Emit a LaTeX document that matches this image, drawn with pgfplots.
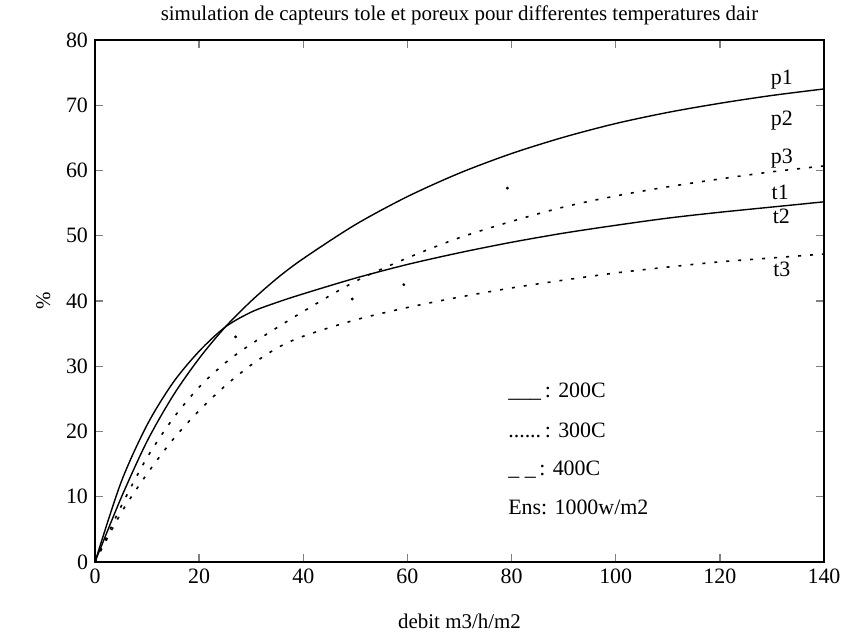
\documentclass[border=0pt]{standalone}
\usepackage{fontspec}
\setmainfont{Liberation Serif}
\usepackage{pgfplots}
\pgfplotsset{compat=1.18}
\begin{document}
\begin{tikzpicture}
\begin{axis}[
  name=ax,
  scale only axis,
  width=364.5bp, height=261bp,
  xmin=0, xmax=140, ymin=0, ymax=80,
  xtick={0,20,...,140}, ytick={0,10,...,80},
  tick align=inside, major tick length=4bp,
  xtick pos=both, ytick pos=both,
  tick style={line width=0.7pt},
  axis line style={line width=0.8pt},
  /pgf/number format/assume math mode=true,
  tick label style={font=\fontsize{11}{13}\selectfont},
  title={simulation de capteurs tole et poreux pour differentes temperatures dair},
  title style={font=\fontsize{10.5}{12}\selectfont, yshift=-2bp},
  xlabel={debit m3/h/m2},
  xlabel style={font=\fontsize{10.5}{12}\selectfont, yshift=-8bp},
  ylabel={\%},
  ylabel style={font=\fontsize{10.5}{12}\selectfont, yshift=1bp},
  clip=false,
]
% p1 (200C, solid)
\addplot[black, line width=0.7pt, smooth] coordinates {
 (0,0) (5,9.8) (10,18.5) (15,25.5) (20,31.2) (25,36) (30,40) (35,43.5) (40,46.5) (50,51.7)
 (60,56.0) (70,59.6) (80,62.6) (90,65.1) (100,67.2) (110,68.9) (120,70.3) (130,71.5) (140,72.5)};
% t1 (200C, solid)
\addplot[black, line width=0.7pt, smooth] coordinates {
 (0,0) (5,12.2) (10,21) (15,27.5) (20,32.3) (25,36) (30,38.3) (35,39.8) (40,41.1)
 (50,43.5) (60,45.6) (70,47.4) (80,49.0) (90,50.4) (100,51.6) (110,52.7) (120,53.6) (130,54.4) (140,55.2)};
% p3 (300C, dotted)
\addplot[black, line width=0.8pt, dash pattern=on 1.5bp off 4.5bp, smooth] coordinates {
 (0,0) (5,8.5) (10,16) (15,22) (20,26.8) (25,30.5) (30,33.4) (40,38.4) (50,43.0)
 (60,46.6) (70,49.7) (80,52.2) (90,54.4) (100,56.1) (110,57.5) (120,58.7) (130,59.8) (140,60.7)};
% t3 (300C, dotted)
\addplot[black, line width=0.8pt, dash pattern=on 1.5bp off 4.5bp, smooth] coordinates {
 (0,0) (5,7.5) (10,13.5) (15,18.8) (20,23.2) (25,27) (30,30.2) (35,32.8) (40,34.6)
 (50,37.1) (60,39.0) (70,40.6) (80,42.0) (90,43.2) (100,44.3) (110,45.2) (120,46.0) (130,46.6) (140,47.2)};
% 400C remnants (dashed, barely visible)
\addplot[only marks, mark=*, mark size=0.5pt, black] coordinates {
 (27,34.5) (49.4,40.3) (59.3,42.5) (79.2,57.3)};
% curve labels
\node[font=\fontsize{11}{13}\selectfont] at (axis cs:131.9,73.9) {p1};
\node[font=\fontsize{11}{13}\selectfont] at (axis cs:131.9,67.6) {p2};
\node[font=\fontsize{11}{13}\selectfont] at (axis cs:131.9,61.9) {p3};
\node[font=\fontsize{11}{13}\selectfont] at (axis cs:131.6,56.7) {t1};
\node[font=\fontsize{11}{13}\selectfont] at (axis cs:131.8,53.0) {t2};
\node[font=\fontsize{11}{13}\selectfont] at (axis cs:131.9,44.9) {t3};
% legend text
\node[anchor=west, inner sep=0pt, font=\fontsize{11}{13}\selectfont] at (axis cs:79.3,26.1) {\_\_\_\,: 200C};
\node[anchor=west, inner sep=0pt, font=\fontsize{11}{13}\selectfont] at (axis cs:79.3,20.1) {......\,: 300C};
\node[anchor=west, inner sep=0pt, font=\fontsize{11}{13}\selectfont] at (axis cs:79.3,14.1) {\_ \_\,: 400C};
\node[anchor=west, inner sep=0pt, font=\fontsize{11}{13}\selectfont] at (axis cs:79.3,8.4) {Ens: 1000w/m2};
\end{axis}
\pgfresetboundingbox
\path ([xshift=-47.5bp,yshift=-35.5bp]ax.south west) rectangle ([xshift=9.5bp,yshift=20bp]ax.north east);
\end{tikzpicture}
\end{document}
